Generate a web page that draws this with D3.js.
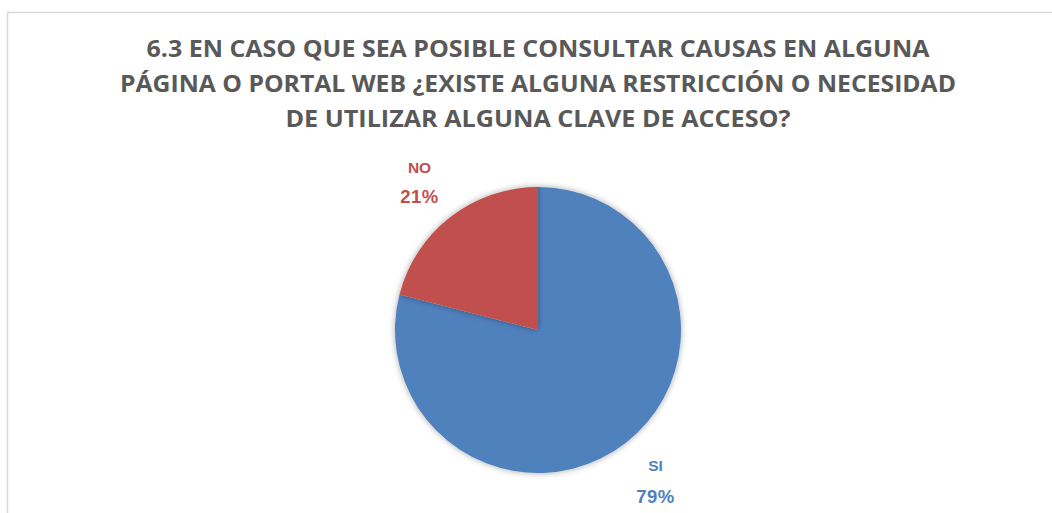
<!DOCTYPE html>
<html><head><meta charset="utf-8">
<script src="https://cdn.jsdelivr.net/npm/d3@7"></script>
<style>html,body{margin:0;padding:0;background:#fff;}</style>
</head><body>
<script>
const categories = ["SI", "NO"];
const values = [79, 21];
const labels = ["79%", "21%"];
const colors = ["#4F81BD", "#C0504D"];
const titleLines = [
  "6.3 EN CASO QUE SEA POSIBLE CONSULTAR CAUSAS EN ALGUNA",
  "PÁGINA O PORTAL WEB ¿EXISTE ALGUNA RESTRICCIÓN O NECESIDAD",
  "DE UTILIZAR ALGUNA CLAVE DE ACCESO?"
];

const W = 1052, H = 513;
const svg = d3.select("body").append("svg").attr("width", W).attr("height", H);

const defs = svg.append("defs");
const f = defs.append("filter").attr("id","sh").attr("x","-20%").attr("y","-20%").attr("width","140%").attr("height","140%");
f.append("feDropShadow").attr("dx",0).attr("dy",0).attr("stdDeviation",3).attr("flood-color","#000").attr("flood-opacity",0.35);

// border
svg.append("path").attr("d", `M7.5,${H} L7.5,12.5 L${W},12.5`).attr("fill","none").attr("stroke","#d9d9d9").attr("stroke-width",1.5);

// title
const widths = [783, 836, 505];
const baselines = [57, 92, 127];
titleLines.forEach((t,i)=>{
  svg.append("text").attr("x", 538).attr("y", baselines[i]).attr("text-anchor","middle")
    .attr("font-family","'Open Sans', sans-serif").attr("font-weight","bold").attr("font-size",24)
    .attr("fill","#595959").attr("textLength", widths[i]).attr("lengthAdjust","spacingAndGlyphs").text(t);
});

const cx = 538, cy = 330, r = 143;
const pie = d3.pie().sort(null).value(d=>d)(values);
const arc = d3.arc().innerRadius(0).outerRadius(r);
const g = svg.append("g").attr("transform", `translate(${cx},${cy})`);
g.selectAll("path").data(pie).enter().append("path")
  .attr("d", arc).attr("fill", (d,i)=>colors[i]).attr("filter","url(#sh)");

// labels
const labelPos = [[655.5, 471, 503], [419.5, 173, 203]];
pie.forEach((d,i)=>{
  const [x,y1,y2] = labelPos[i];
  const tg = svg.append("g").attr("font-family","'Liberation Sans', Arial, sans-serif").attr("font-weight","bold")
    .attr("fill",colors[i]).attr("text-anchor","middle");
  tg.append("text").attr("x",x).attr("y",y1).attr("font-size",15.5).text(categories[i]);
  tg.append("text").attr("x",x).attr("y",y2).attr("font-size",18.5).attr("letter-spacing",0.5).text(labels[i]);
});
</script>
</body></html>
